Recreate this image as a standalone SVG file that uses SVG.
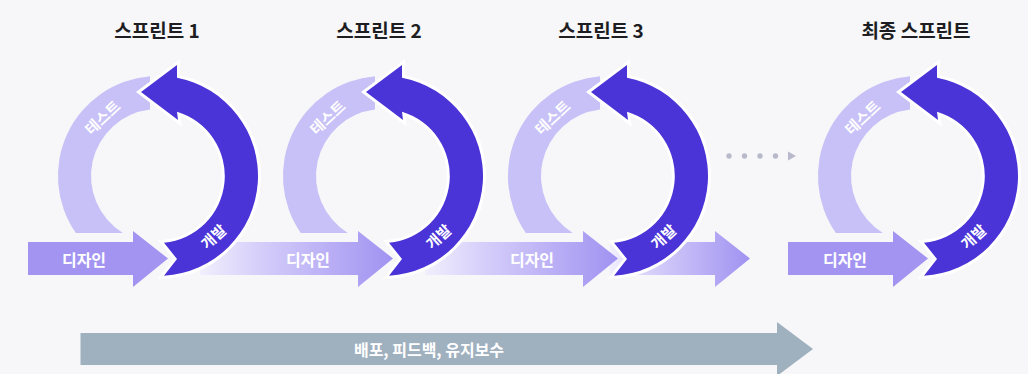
<svg xmlns="http://www.w3.org/2000/svg" width="1028" height="374" viewBox="0 0 1028 374">
<defs>
<style>
.title{font-family:"Noto Sans CJK KR","Noto Sans",sans-serif;font-weight:700;font-size:19px;fill:#1d1d22;text-anchor:middle}
.lbl{font-family:"Noto Sans CJK KR","Noto Sans",sans-serif;font-weight:700;font-size:16px;fill:#ffffff;text-anchor:middle;dominant-baseline:central}
.arc{font-size:15px}
.dark{fill:#4a33d7;stroke:#ffffff;stroke-width:6;stroke-linejoin:miter;paint-order:stroke}
.light{fill:#c8c1f7}
.solid{fill:#a394f2}
.fade{fill:url(#fade)}
.dot{fill:#b9b9cc}
</style>
<linearGradient id="fade" x1="0" y1="0" x2="1" y2="0">
<stop offset="0" stop-color="#f1effd"/>
<stop offset="0.3" stop-color="#d6cffa"/>
<stop offset="1" stop-color="#a092f1"/>
</linearGradient>
<path id="darkArc" d="M 164 275.8 A 100 100 0 0 0 177 77.8 L 177 65 L 141 92 L 178 120 L 177 111.8 A 67 67 0 0 1 164 242.7 L 177 259 Z"/>
<path id="lightArc" d="M 75.8 233 A 100 100 0 0 1 150 76.3 L 150 109.5 A 67 67 0 0 0 122.8 233 Z"/>
</defs>
<rect width="1028" height="374" fill="#f7f7f9"/>

<g id="connectors">
<path class="fade" d="M610 242 H715 V231 L750 258.5 L715 287 V275 H610 Z"/>
<circle class="dot" cx="729" cy="156" r="2.7"/>
<circle class="dot" cx="744.5" cy="156" r="2.7"/>
<circle class="dot" cx="760" cy="156" r="2.7"/>
<circle class="dot" cx="775.5" cy="156" r="2.7"/>
<path class="dot" d="M788 151.5 L796 156 L788 160.5 Z"/>
</g>

<g id="sprint-final">
<text class="title" x="916" y="38">최종 스프린트</text>
<path class="solid" d="M788 242 H893 V231 L928 258.5 L893 287 V275 H788 Z"/>
<use href="#lightArc" class="light" transform="translate(760 0)"/>
<use href="#darkArc" class="dark" transform="translate(760 0)"/>
<text class="lbl" x="845" y="258.5">디자인</text>
<text class="lbl arc" transform="translate(862 117) rotate(-43)">테스트</text>
<text class="lbl arc" transform="translate(973 236) rotate(-43)">개발</text>
</g>

<g id="sprint-3">
<text class="title" x="601" y="38">스프린트 3</text>
<path class="fade" d="M425 242 H583 V231 L618 258.5 L583 287 V275 H425 Z"/>
<use href="#lightArc" class="light" transform="translate(450 0)"/>
<use href="#darkArc" class="dark" transform="translate(450 0)"/>
<text class="lbl" x="532" y="258.5">디자인</text>
<text class="lbl arc" transform="translate(552 117) rotate(-43)">테스트</text>
<text class="lbl arc" transform="translate(663 236) rotate(-43)">개발</text>
</g>

<g id="sprint-2">
<text class="title" x="379" y="38">스프린트 2</text>
<path class="fade" d="M200 242 H358 V231 L393 258.5 L358 287 V275 H200 Z"/>
<use href="#lightArc" class="light" transform="translate(225 0)"/>
<use href="#darkArc" class="dark" transform="translate(225 0)"/>
<text class="lbl" x="308" y="258.5">디자인</text>
<text class="lbl arc" transform="translate(327 117) rotate(-43)">테스트</text>
<text class="lbl arc" transform="translate(438 236) rotate(-43)">개발</text>
</g>

<g id="sprint-1">
<text class="title" x="157" y="38">스프린트 1</text>
<path class="solid" d="M28 242 H133 V231 L168 258.5 L133 287 V275 H28 Z"/>
<use href="#lightArc" class="light"/>
<use href="#darkArc" class="dark"/>
<text class="lbl" x="84" y="258.5">디자인</text>
<text class="lbl arc" transform="translate(102 117) rotate(-43)">테스트</text>
<text class="lbl arc" transform="translate(213 236) rotate(-43)">개발</text>
</g>

<g id="release">
<path fill="#9fb0bf" d="M80.5 333 H777 V322 L813 349 L777 376 V365 H80.5 Z"/>
<text class="lbl" x="429" y="349">배포, 피드백, 유지보수</text>
</g>
</svg>
